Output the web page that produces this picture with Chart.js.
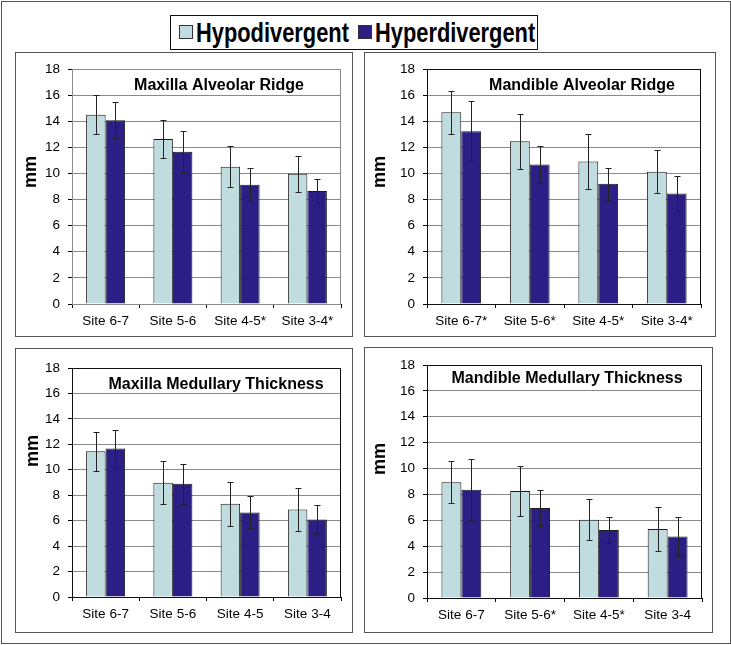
<!DOCTYPE html>
<html>
<head>
<meta charset="utf-8">
<script src="https://cdn.jsdelivr.net/npm/chart.js@4.4.1/dist/chart.umd.min.js"></script>
<style>
body { margin: 0; background: #fff; }
#page { position: relative; width: 731px; height: 645px; overflow: hidden; }
.frame { position: absolute; box-sizing: border-box; border: 1.5px solid #555; }
canvas { position: absolute; }
#legend { position: absolute; left: 170px; top: 15px; width: 368px; height: 35px; box-sizing: border-box; border: 1.5px solid #111; }
.sw { position: absolute; top: 9px; width: 14px; height: 14px; box-sizing: border-box; border: 1px solid #333; }
.lt { position: absolute; top: 3px; font: bold 28px/1 "Liberation Sans", Arial, sans-serif; color: #000; white-space: nowrap;
      transform: scaleX(0.78); transform-origin: 0 0; }
</style>
</head>
<body>
<div id="page">
  <div class="frame" style="left:1px;top:1px;width:730px;height:643px"></div>
  <div id="legend">
    <div class="sw" style="left:8px;background:#c0dcde"></div>
    <span class="lt" style="left:25px">Hypodivergent</span>
    <div class="sw" style="left:187px;background:#2b1f86"></div>
    <span class="lt" style="left:204px">Hyperdivergent</span>
  </div>
</div>
<script>
"use strict"

// tick values of the y axis (mm)
const yMin = 0;
const yMax = 18;
const yStep = 2;

// Maxilla alveolar ridge
const maxRidgeSites = ['Site 6-7', 'Site 5-6', 'Site 4-5*', 'Site 3-4*'];
const maxRidgeHypo = [14.5, 12.63, 10.51, 9.97];
const maxRidgeHypoSd = [1.5, 1.43, 1.58, 1.37];
const maxRidgeHyper = [14.08, 11.66, 9.13, 8.65];
const maxRidgeHyperSd = [1.4, 1.57, 1.25, 0.92];

// Mandible alveolar ridge
const mandRidgeSites = ['Site 6-7*', 'Site 5-6*', 'Site 4-5*', 'Site 3-4*'];
const mandRidgeHypo = [14.68, 12.47, 10.92, 10.13];
const mandRidgeHypoSd = [1.67, 2.1, 2.13, 1.63];
const mandRidgeHyper = [13.24, 10.69, 9.21, 8.47];
const mandRidgeHyperSd = [2.28, 1.45, 1.22, 1.32];

// Maxilla medullary thickness
const maxMedSites = ['Site 6-7', 'Site 5-6', 'Site 4-5', 'Site 3-4'];
const maxMedHypo = [11.46, 8.99, 7.33, 6.88];
const maxMedHypoSd = [1.53, 1.68, 1.74, 1.67];
const maxMedHyper = [11.67, 8.91, 6.65, 6.1];
const maxMedHyperSd = [1.43, 1.57, 1.25, 1.15];

// Mandible medullary thickness
const mandMedSites = ['Site 6-7', 'Site 5-6*', 'Site 4-5*', 'Site 3-4'];
const mandMedHypo = [8.94, 8.27, 6.05, 5.33];
const mandMedHypoSd = [1.61, 1.9, 1.57, 1.67];
const mandMedHyper = [8.37, 6.95, 5.25, 4.76];
const mandMedHyperSd = [2.35, 1.38, 0.99, 1.5];

const hypoColor = '#c0dcde';
const hyperColor = '#2b1f86';

Chart.defaults.font.family = '"Liberation Sans", Arial, sans-serif';
Chart.defaults.color = '#000';

// box = panel frame, plot = chart area (page px)
const panels = [
    { title: 'Maxilla Alveolar Ridge', labels: maxRidgeSites,
      hypo: maxRidgeHypo, hypoSd: maxRidgeHypoSd, hyper: maxRidgeHyper, hyperSd: maxRidgeHyperSd,
      box: [15, 52, 338, 285], plot: [72, 69, 341, 304],
      titleX: 219, titleY: 89.5, mmX: 36, mmY: 172, edge: '#8a8a8a' },
    { title: 'Mandible Alveolar Ridge', labels: mandRidgeSites,
      hypo: mandRidgeHypo, hypoSd: mandRidgeHypoSd, hyper: mandRidgeHyper, hyperSd: mandRidgeHyperSd,
      box: [364, 52, 352, 285], plot: [427, 69, 701, 304],
      titleX: 582, titleY: 89.5, mmX: 385, mmY: 172, edge: '#111' },
    { title: 'Maxilla Medullary Thickness', labels: maxMedSites,
      hypo: maxMedHypo, hypoSd: maxMedHypoSd, hyper: maxMedHyper, hyperSd: maxMedHyperSd,
      box: [15, 348, 338, 285], plot: [72, 368, 341, 597],
      titleX: 216, titleY: 388.5, mmX: 38, mmY: 451, edge: '#111' },
    { title: 'Mandible Medullary Thickness', labels: mandMedSites,
      hypo: mandMedHypo, hypoSd: mandMedHypoSd, hyper: mandMedHyper, hyperSd: mandMedHyperSd,
      box: [364, 347, 349, 286], plot: [427, 365, 702, 598],
      titleX: 567, titleY: 383, mmX: 385, mmY: 459, edge: '#111' }
];

const errorBars = {
    id: 'errorBars',
    afterDatasetsDraw(chart) {
        const ctx = chart.ctx;
        const y = chart.scales.y;
        ctx.save();
        ctx.strokeStyle = '#222';
        ctx.lineWidth = 1;
        chart.data.datasets.forEach((ds, i) => {
            chart.getDatasetMeta(i).data.forEach((bar, j) => {
                const top = Math.round(y.getPixelForValue(ds.data[j] + ds.sd[j])) + 0.5;
                const bot = Math.round(y.getPixelForValue(ds.data[j] - ds.sd[j])) + 0.5;
                const x = Math.round(bar.x) + 0.5;
                ctx.beginPath();
                ctx.moveTo(x, top); ctx.lineTo(x, bot);
                ctx.moveTo(x - 3, top); ctx.lineTo(x + 3, top);
                ctx.moveTo(x - 3, bot); ctx.lineTo(x + 3, bot);
                ctx.stroke();
            });
        });
        ctx.restore();
    }
};

const panelText = {
    id: 'panelText',
    afterDraw(chart, args, opts) {
        const ctx = chart.ctx;
        const a = chart.chartArea;
        ctx.save();
        ctx.strokeStyle = opts.edge;
        ctx.lineWidth = 1;
        ctx.strokeRect(Math.round(a.left) + 0.5, Math.round(a.top) + 0.5,
            Math.round(a.right - a.left) - 1, Math.round(a.bottom - a.top));
        ctx.fillStyle = '#000';
        ctx.font = 'bold 16px "Liberation Sans", Arial, sans-serif';
        ctx.textAlign = 'center';
        ctx.textBaseline = 'alphabetic';
        ctx.fillText(opts.title, opts.tx, opts.ty);
        ctx.translate(opts.mx, opts.my);
        ctx.rotate(-Math.PI / 2);
        ctx.font = 'bold 18px "Liberation Sans", Arial, sans-serif';
        ctx.fillText('mm', 0, 0);
        ctx.restore();
    }
};

const page = document.getElementById('page');

panels.forEach(p => {
    const [bx, by, bw, bh] = p.box;
    const [pl, pt, pr, pb] = p.plot;

    const frame = document.createElement('div');
    frame.className = 'frame';
    frame.style.cssText = `left:${bx}px;top:${by}px;width:${bw}px;height:${bh}px`;
    page.append(frame);

    const canvas = document.createElement('canvas');
    canvas.width = bw;
    canvas.height = bh;
    canvas.style.left = bx + 'px';
    canvas.style.top = by + 'px';
    page.append(canvas);

    new Chart(canvas, {
        type: 'bar',
        data: {
            labels: p.labels,
            datasets: [
                { label: 'Hypodivergent', data: p.hypo, sd: p.hypoSd, backgroundColor: hypoColor,
                  borderColor: '#1a1a1a', borderWidth: 1, categoryPercentage: 0.58, barPercentage: 1 },
                { label: 'Hyperdivergent', data: p.hyper, sd: p.hyperSd, backgroundColor: hyperColor,
                  borderColor: '#1a1a1a', borderWidth: 1, categoryPercentage: 0.58, barPercentage: 1 }
            ]
        },
        options: {
            responsive: false,
            animation: false,
            layout: { padding: { left: 0, top: pt - by, right: bx + bw - pr, bottom: 0 } },
            plugins: {
                legend: { display: false },
                tooltip: { enabled: false },
                panelText: { title: p.title, tx: p.titleX - bx, ty: p.titleY - by,
                             mx: p.mmX - bx, my: p.mmY - by, edge: p.edge }
            },
            scales: {
                x: {
                    grid: { drawOnChartArea: false, drawTicks: true, tickLength: 4, tickColor: '#000', offset: true },
                    border: { color: '#000' },
                    ticks: { font: { size: 13.5 }, color: '#000', padding: 5, maxRotation: 0 },
                    afterFit: s => { s.height = by + bh - pb; }
                },
                y: {
                    min: yMin, max: yMax,
                    grid: { color: '#8a8a8a', tickLength: 4, tickColor: '#000' },
                    border: { color: '#000' },
                    ticks: { stepSize: yStep, font: { size: 13.5 }, color: '#000', padding: 8 },
                    afterFit: s => { s.width = pl - bx; }
                }
            }
        },
        plugins: [errorBars, panelText]
    });
});
</script>
</body>
</html>
